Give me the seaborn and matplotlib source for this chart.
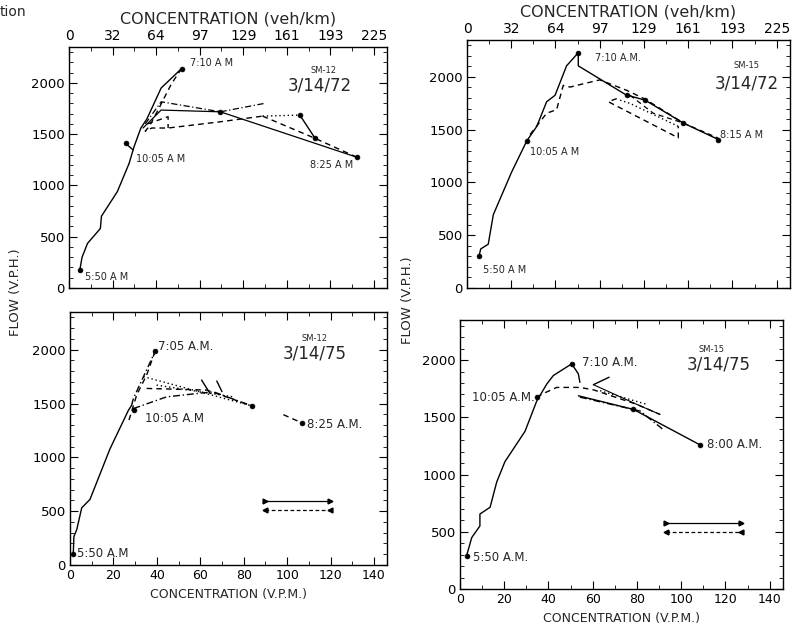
import matplotlib
matplotlib.use("Agg")
import matplotlib.pyplot as plt
import seaborn as sns
from matplotlib.lines import Line2D
from matplotlib.ticker import MultipleLocator

# ---------------- data (concentration in V.P.M., flow in V.P.H.) ----------------
vpm_ticks = [0, 20, 40, 60, 80, 100, 120, 140]
kmh_labels = ["0", "32", "64", "97", "129", "161", "193", "225"]
flow_ticks = [0, 500, 1000, 1500, 2000]

# SM-12  3/14/72
tl_rise_x = [5, 6, 8.5, 14.4, 14.9, 22.2, 27.6, 29.9, 33, 35.8, 42.3, 51.7]
tl_rise_y = [180, 300, 435, 580, 700, 940, 1215, 1380, 1560, 1650, 1950, 2140]
tl_fall_x = [51.7, 47, 41, 37, 35, 38, 45.5, 69.5, 88.9]
tl_fall_y = [2140, 1990, 1740, 1580, 1530, 1560, 1560, 1621, 1676]
tl_tail_x = [88.9, 113, 132.3]
tl_tail_y = [1676, 1459, 1274]
tl_loop_x = [36, 45.5, 45.5]
tl_loop_y = [1600, 1670, 1560]
tl_solid2_x = [34, 42.3, 69.5, 132.3]
tl_solid2_y = [1560, 1735, 1718, 1274]
tl_dashdot_x = [35, 42.3, 69.5, 89.7]
tl_dashdot_y = [1600, 1816, 1718, 1800]
tl_dot_x = [88.9, 106]
tl_dot_y = [1676, 1686]
tl_seg_x = [106, 113]
tl_seg_y = [1686, 1459]
tl_end_x = [26, 29.5]
tl_end_y = [1410, 1345]
tl_pts_x = [5, 51.7, 26, 132.3, 69.5, 106, 113]
tl_pts_y = [180, 2140, 1410, 1274, 1718, 1686, 1459]

# SM-15  3/14/72
tr_rise_x = [5.4, 6.2, 9.6, 11.9, 20.2, 27, 31.5, 36, 39.8, 45, 50.3]
tr_rise_y = [300, 370, 415, 695, 1100, 1393, 1530, 1765, 1826, 2105, 2230]
tr_fall_x = [50.3, 50.3, 72.2, 75.2, 80.5, 97.8, 113.6]
tr_fall_y = [2230, 2105, 1826, 1811, 1780, 1563, 1407]
tr_dash_x = [28.5, 36, 40.5, 43.5, 46.6, 52.6, 60, 72.2, 80.5, 97.8]
tr_dash_y = [1454, 1656, 1690, 1920, 1904, 1935, 1972, 1873, 1790, 1563]
tr_dash2_x = [67.7, 63.9, 95.5, 95.5]
tr_dash2_y = [1795, 1765, 1423, 1532]
tr_dot_x = [69.2, 73.7, 95.5]
tr_dot_y = [1780, 1749, 1532]
tr_dot2_x = [73.7, 84.2, 97.8, 113.6]
tr_dot2_y = [1826, 1656, 1563, 1420]
tr_pts_x = [5.4, 50.3, 27, 113.6, 72.2, 80.5, 97.8]
tr_pts_y = [300, 2230, 1393, 1407, 1826, 1780, 1563]

# SM-12  3/14/75
bl_rise_x = [1.5, 1.8, 3.1, 5.4, 9.2, 18.4, 26.9, 28.4]
bl_rise_y = [100, 265, 328, 531, 609, 1078, 1437, 1484]
bl_up_x = [28.4, 29.2, 39.2]
bl_up_y = [1484, 1547, 1984]
bl_fall_x = [39.2, 35.3, 30.7, 26.9]
bl_fall_y = [1984, 1765, 1578, 1328]
bl_dot1_x = [33.8, 83.7]
bl_dot1_y = [1750, 1478]
bl_dash_x = [35.3, 63, 83.7]
bl_dash_y = [1640, 1625, 1478]
bl_dashdot_x = [29.2, 44.5, 66, 83.7]
bl_dashdot_y = [1453, 1562, 1609, 1478]
bl_dot2_x = [39.9, 75.2]
bl_dot2_y = [1671, 1562]
bl_solid_x = [60.6, 64.5]
bl_solid_y = [1718, 1593]
bl_solid2_x = [67.6, 70]
bl_solid2_y = [1709, 1610]
bl_end_x = [98.3, 106.7]
bl_end_y = [1396, 1321]
bl_pts_x = [1.5, 39.2, 29.5, 83.7, 106.7]
bl_pts_y = [100, 1984, 1440, 1478, 1321]

# SM-15  3/14/75
br_rise_x = [3, 5.3, 9, 9, 13.6, 16.6, 20.3, 29.4, 34.7, 39.2, 42.2, 50.5]
br_rise_y = [292, 449, 551, 655, 714, 935, 1112, 1378, 1643, 1790, 1865, 1967]
br_fall_x = [50.5, 53.5, 54.2]
br_fall_y = [1967, 1879, 1805]
br_dash_x = [34.7, 37, 43.7, 54.2, 60.3, 79.9, 90.4]
br_dash_y = [1673, 1702, 1761, 1761, 1740, 1613, 1525]
br_main_x = [53.5, 78.4, 108.5]
br_main_y = [1688, 1569, 1259]
br_solid2_x = [60.3, 79.9, 90.4]
br_solid2_y = [1785, 1613, 1525]
br_dashdot_x = [54.2, 81.4, 91.9]
br_dashdot_y = [1676, 1555, 1392]
br_dot_x = [63.3, 84.4]
br_dot_y = [1732, 1613]
br_tick_x = [60.3, 67.4]
br_tick_y = [1785, 1850]
br_pts_x = [3, 50.5, 34.7, 108.5, 78.4]
br_pts_y = [292, 1967, 1673, 1259, 1569]

# ---------------- figure ----------------
sns.set_theme(style="ticks")
plt.rcParams["font.family"] = ["DejaVu Sans"]

fig = plt.figure(figsize=(7.99, 6.34), dpi=100)
W, H = 799, 634


def add_axes(l, t, r, b):
    return fig.add_axes([l / W, 1 - b / H, (r - l) / W, (b - t) / H])


ax_tl = add_axes(69, 47, 387, 288)
ax_tr = add_axes(467, 40, 790, 288)
ax_bl = add_axes(70, 312, 387, 565)
ax_br = add_axes(460, 320, 783, 589)

SOLID = "-"
DASH = (0, (4, 3))
DOT = (0, (1, 2))
DASHDOT = (0, (5, 2, 1, 2))


def draw(ax, x, y, ls, lw=1.0):
    sns.lineplot(x=x, y=y, sort=False, estimator=None, ax=ax,
                 color="black", linestyle=ls, linewidth=lw)


def pts(ax, x, y):
    sns.scatterplot(x=x, y=y, ax=ax, color="black", s=12,
                    edgecolor="black", linewidth=0.5, zorder=5)


def style(ax, top):
    ax.set_xlim(0, 146)
    ax.set_ylim(0, 2350)
    ax.set_xticks(vpm_ticks)
    ax.xaxis.set_minor_locator(MultipleLocator(10))
    ax.set_yticks(flow_ticks)
    ax.yaxis.set_minor_locator(MultipleLocator(100))
    ax.tick_params(which="both", direction="in", top=True, right=True,
                   bottom=True, left=True, colors="black")
    ax.tick_params(which="major", length=6, width=0.8)
    ax.tick_params(which="minor", length=3, width=0.6)
    ax.tick_params(axis="y", labelsize=9.5, pad=3)
    for s in ax.spines.values():
        s.set_color("black")
        s.set_linewidth(1.0)
    ax.set_ylabel("")
    if top:
        ax.tick_params(axis="x", labeltop=True, labelbottom=False,
                       labelsize=10, pad=3)
        ax.set_xticklabels(kmh_labels)
        ax.xaxis.set_label_position("top")
        ax.set_xlabel("CONCENTRATION (veh/km)", fontsize=11.5, labelpad=4)
    else:
        ax.tick_params(axis="x", labelsize=9, pad=3)
        ax.set_xticklabels([str(v) for v in vpm_ticks])
        ax.set_xlabel("CONCENTRATION (V.P.M.)", fontsize=9, labelpad=4)


def arrow_legend(ax, anchor, hlen):
    handles = [
        Line2D([], [], color="black", linestyle="-", linewidth=0.9,
               marker=">", markersize=3.5),
        Line2D([], [], color="black", linestyle=(0, (3, 2)), linewidth=0.9,
               marker="<", markersize=3.5),
    ]
    ax.legend(handles, ["", ""], loc="lower left", bbox_to_anchor=anchor,
              frameon=False, handlelength=hlen, numpoints=2, handletextpad=0,
              borderpad=0, borderaxespad=0, labelspacing=0.0,
              prop={"size": 6})


# --- top-left ---
ax = ax_tl
draw(ax, tl_rise_x, tl_rise_y, SOLID)
draw(ax, tl_fall_x, tl_fall_y, DASH)
draw(ax, tl_tail_x, tl_tail_y, DASH)
draw(ax, tl_loop_x, tl_loop_y, DASH)
draw(ax, tl_solid2_x, tl_solid2_y, SOLID, 0.9)
draw(ax, tl_dashdot_x, tl_dashdot_y, DASHDOT, 0.9)
draw(ax, tl_dot_x, tl_dot_y, DOT)
draw(ax, tl_seg_x, tl_seg_y, SOLID)
draw(ax, tl_end_x, tl_end_y, SOLID)
pts(ax, tl_pts_x, tl_pts_y)
style(ax, True)
ax.text(55.5, 2196, "7:10 A M", fontsize=7, va="center")
ax.text(30.7, 1254, "10:05 A M", fontsize=7, va="center")
ax.text(110.6, 1199, "8:25 A M", fontsize=7, va="center")
ax.text(7.4, 110, "5:50 A M", fontsize=7, va="center")
ax.text(116.8, 2125, "SM-12", fontsize=6, ha="center", va="center")
ax.text(115.3, 1979, "3/14/72", fontsize=12, ha="center", va="center")

# --- top-right ---
ax = ax_tr
draw(ax, tr_rise_x, tr_rise_y, SOLID)
draw(ax, tr_fall_x, tr_fall_y, SOLID)
draw(ax, tr_dash_x, tr_dash_y, DASH)
draw(ax, tr_dash2_x, tr_dash2_y, DASH)
draw(ax, tr_dot_x, tr_dot_y, DOT)
draw(ax, tr_dot2_x, tr_dot2_y, DASH, 0.9)
pts(ax, tr_pts_x, tr_pts_y)
style(ax, True)
ax.text(57.9, 2183, "7:10 A.M.", fontsize=7, va="center")
ax.text(28.5, 1284, "10:05 A M", fontsize=7, va="center")
ax.text(114.4, 1454, "8:15 A M", fontsize=7, va="center")
ax.text(7.4, 174, "5:50 A M", fontsize=7, va="center")
ax.text(126.4, 2105, "SM-15", fontsize=6, ha="center", va="center")
ax.text(126.4, 1935, "3/14/72", fontsize=12, ha="center", va="center")

# --- bottom-left ---
ax = ax_bl
draw(ax, bl_rise_x, bl_rise_y, SOLID)
draw(ax, bl_up_x, bl_up_y, DASHDOT)
draw(ax, bl_fall_x, bl_fall_y, DASH)
draw(ax, bl_dot1_x, bl_dot1_y, DOT)
draw(ax, bl_dash_x, bl_dash_y, DASH)
draw(ax, bl_dashdot_x, bl_dashdot_y, DASHDOT)
draw(ax, bl_dot2_x, bl_dot2_y, DOT)
draw(ax, bl_solid_x, bl_solid_y, SOLID)
draw(ax, bl_solid2_x, bl_solid2_y, SOLID)
draw(ax, bl_end_x, bl_end_y, DASH)
pts(ax, bl_pts_x, bl_pts_y)
style(ax, False)
ax.text(40.5, 2034, "7:05 A.M.", fontsize=8.5, va="center")
ax.text(34.5, 1359, "10:05 A.M", fontsize=8.5, va="center")
ax.text(109, 1303, "8:25 A.M.", fontsize=8.5, va="center")
ax.text(3.1, 110, "5:50 A.M", fontsize=8.5, va="center")
ax.text(112.8, 2108, "SM-12", fontsize=6, ha="center", va="center")
ax.text(112.8, 1968, "3/14/75", fontsize=12, ha="center", va="center")
arrow_legend(ax, (0.606, 0.197), 8.5)

# --- bottom-right ---
ax = ax_br
draw(ax, br_rise_x, br_rise_y, SOLID)
draw(ax, br_fall_x, br_fall_y, SOLID)
draw(ax, br_dash_x, br_dash_y, DASH)
draw(ax, br_main_x, br_main_y, SOLID)
draw(ax, br_solid2_x, br_solid2_y, SOLID, 0.8)
draw(ax, br_dashdot_x, br_dashdot_y, DASHDOT)
draw(ax, br_dot_x, br_dot_y, DOT)
draw(ax, br_tick_x, br_tick_y, SOLID)
pts(ax, br_pts_x, br_pts_y)
style(ax, False)
ax.text(55, 1982, "7:10 A.M.", fontsize=8.5, va="center")
ax.text(5.3, 1673, "10:05 A.M.", fontsize=8.5, va="center")
ax.text(111.5, 1259, "8:00 A.M.", fontsize=8.5, va="center")
ax.text(6, 272, "5:50 A.M.", fontsize=8.5, va="center")
ax.text(113.8, 2090, "SM-15", fontsize=6, ha="center", va="center")
ax.text(116.8, 1960, "3/14/75", fontsize=12, ha="center", va="center")
arrow_legend(ax, (0.63, 0.193), 9.6)

# figure-level texts
fig.text(0.0, 1 - 12 / H, "tion", fontsize=10, ha="left", va="center")
fig.text(15 / W, 1 - 292 / H, "FLOW (V.P.H.)", rotation=90, fontsize=9.5,
         ha="center", va="center")
fig.text(407 / W, 1 - 300 / H, "FLOW (V.P.H.)", rotation=90, fontsize=9.5,
         ha="center", va="center")

fig.savefig("out.png", dpi=100)
